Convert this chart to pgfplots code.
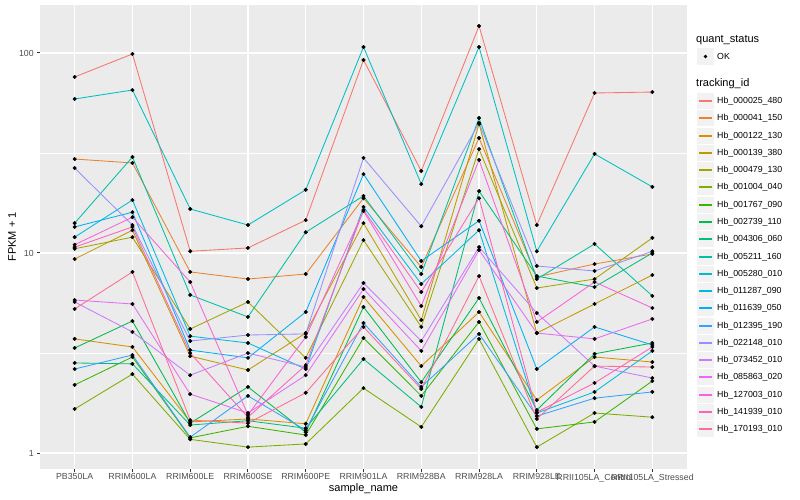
\documentclass[border=0pt]{standalone}
\usepackage{fontspec}
\setmainfont{Liberation Sans}
\usepackage{pgfplots}
\usepackage{pgfplotstable}
\pgfplotsset{compat=1.18}

\definecolor{panel}{HTML}{EBEBEB}
\definecolor{keybg}{HTML}{F2F2F2}
\definecolor{ticktext}{HTML}{4D4D4D}
\definecolor{tickmark}{HTML}{333333}
% ggplot hue palette, 20 levels
\definecolor{c1}{HTML}{F8766D}
\definecolor{c2}{HTML}{EA8331}
\definecolor{c3}{HTML}{D89000}
\definecolor{c4}{HTML}{C09B00}
\definecolor{c5}{HTML}{A3A500}
\definecolor{c6}{HTML}{7CAE00}
\definecolor{c7}{HTML}{39B600}
\definecolor{c8}{HTML}{00BB4E}
\definecolor{c9}{HTML}{00BF7D}
\definecolor{c10}{HTML}{00C1A3}
\definecolor{c11}{HTML}{00BFC4}
\definecolor{c12}{HTML}{00BAE0}
\definecolor{c13}{HTML}{00B0F6}
\definecolor{c14}{HTML}{35A2FF}
\definecolor{c15}{HTML}{9590FF}
\definecolor{c16}{HTML}{C77CFF}
\definecolor{c17}{HTML}{E76BF3}
\definecolor{c18}{HTML}{FA62DB}
\definecolor{c19}{HTML}{FF62BC}
\definecolor{c20}{HTML}{FF6C91}

% FPKM + 1, one row per sample, one column per tracking_id
\pgfplotstableread{
x  s1    s2    s3   s4   s5   s6    s7   s8   s9   s10  s11   s12   s13  s14  s15  s16  s17   s18  s19  s20
0  75.9  29.5  3.72 9.33 10.5 1.66  2.19 3.35 2.82 14.1 58.9  12.0  13.5 2.63 26.6 5.69 5.82  11.0 10.7 5.25
1  98.9  28.2  3.39 13.0 12.0 2.48  3.02 4.57 2.79 30.2 65.3  18.4  16.0 3.09 13.8 4.03 5.56  15.1 13.5 8.04
2  10.2  8.04  1.43 3.05 4.17 1.17  1.19 1.41 1.38 6.17 16.6  3.84  3.27 1.20 3.63 2.45 1.97  7.16 3.16 1.46
3  10.6  7.41  1.48 2.60 5.69 1.07  1.36 2.14 1.45 4.79 13.8  3.55  2.99 1.93 3.89 3.16 1.585 1.55 1.51 1.41
4  14.6  7.85  1.40 3.98 2.99 1.11  1.23 1.27 1.33 12.7 20.7  2.63  5.07 1.30 3.94 2.69 2.45  3.80 2.75 2.00
5  92.3  18.8  6.03 14.1 11.6 2.11  3.76 5.37 2.95 19.3 107.2 17.0  24.8 4.47 29.9 7.08 6.61  16.2 16.4 4.27
6  25.7  8.51  2.72 4.62 4.27 1.35  1.93 2.26 1.70 7.85 22.1  7.00  9.12 2.14 13.6 3.63 3.24  5.43 6.38 2.09
7  136.5 37.6  5.07 44.2 33.1 3.72  4.52 5.96 20.4 47.3 107.2 13.0  14.5 3.94 44.7 10.7 10.35 29.2 18.8 7.67
8  13.8  7.59  1.84 3.98 6.68 1.07  1.32 1.64 7.67 7.41 10.2  1.585 2.63 1.53 8.61 5.01 3.98  4.52 1.60 1.48
9  63.1  8.81  3.02 5.56 7.41 1.585 1.43 3.13 6.76 11.1 31.3  2.02  4.27 1.88 8.13 2.72 3.72  7.16 2.24 2.72
10 63.8  9.89  2.85 7.76 11.9 1.51  2.29 3.55 10.0 6.10 21.4  3.24  3.47 2.02 10.2 2.37 4.68  5.31 3.39 2.69
}\fpkm

\newcommand\ticksize{\fontsize{8.8}{10}\selectfont}
\newcommand\titlesize{\fontsize{11}{13}\selectfont}

\begin{document}
\begin{tikzpicture}
\path[use as bounding box] (0pt,0pt) rectangle (800pt,500pt);
\begin{axis}[
    at={(40pt,31pt)}, anchor=south west,
    scale only axis, width=647pt, height=464pt,
    xmin=-0.6, xmax=10.6,
    ymode=log, ymin=0.8318, ymax=173.8,
    xtick={0,...,10},
    xticklabels={PB350LA,RRIM600LA,RRIM600LE,RRIM600SE,RRIM600PE,RRIM901LA,
        RRIM928BA,RRIM928LA,RRIM928LE,RRII105LA\_Control,RRII105LA\_Stressed},
    ytick={1,10,100}, yticklabels={1,10,100},
    minor ytick={3.1623,31.623},
    xmajorgrids, ymajorgrids, yminorgrids,
    major grid style={white, line width=1.1pt},
    minor grid style={white, line width=0.55pt},
    axis background/.style={fill=panel},
    axis line style={draw=none},
    tick align=outside, major tick length=2.75pt, minor tick length=0pt,
    xtick pos=bottom, ytick pos=left,
    tick style={tickmark, line width=1pt},
    ticklabel style={font=\ticksize, text=ticktext},
    xticklabel style={yshift=1.5pt},
    /pgf/number format/assume math mode=true,
    xlabel={sample\_name}, ylabel={FPKM + 1},
    label style={font=\titlesize},
    xlabel style={at={(axis description cs:0.5,-0.0431)}, anchor=center},
    ylabel style={at={(axis description cs:-0.0433,0.5)}, anchor=center},
]
\pgfplotsinvokeforeach{1,...,20}{
    \addplot[draw=c#1, line width=0.85pt, mark=none] table[x=x, y=s#1] {\fpkm};
}
\pgfplotsinvokeforeach{1,...,20}{
    \addplot[only marks, mark=*, mark size=1.8pt, draw=black, fill=black] table[x=x, y=s#1] {\fpkm};
}
\end{axis}

% legend
\node[anchor=west, inner sep=0pt, font=\titlesize] at (696pt,460pt) {quant\_status};
\fill[keybg] (697pt,435pt) rectangle (714pt,452pt);
\fill[black] (705.5pt,443.5pt) circle (1.8pt);
\node[anchor=west, inner sep=0pt, font=\ticksize] at (717pt,443.5pt) {OK};
\node[anchor=west, inner sep=0pt, font=\titlesize] at (696pt,416pt) {tracking\_id};
\foreach \n [count=\i] in {000025\_480,000041\_150,000122\_130,000139\_380,000479\_130,
    001004\_040,001767\_090,002739\_110,004306\_060,005211\_160,005280\_010,011287\_090,
    011639\_050,012395\_190,022148\_010,073452\_010,085863\_020,127003\_010,141939\_010,170193\_010}{
    \pgfmathsetmacro\yc{round(399-17.28*(\i-1))}
    \edef\col{c\i}
    \fill[keybg] (697pt,\yc pt-8.1pt) rectangle (714pt,\yc pt+8.1pt);
    \fill[fill=\col] (699pt,\yc pt-0.8pt) rectangle (712pt,\yc pt+0.8pt);
    \node[anchor=west, inner sep=0pt, font=\ticksize] at (717pt,\yc pt) {Hb\_\n};
}
\end{tikzpicture}
\end{document}
